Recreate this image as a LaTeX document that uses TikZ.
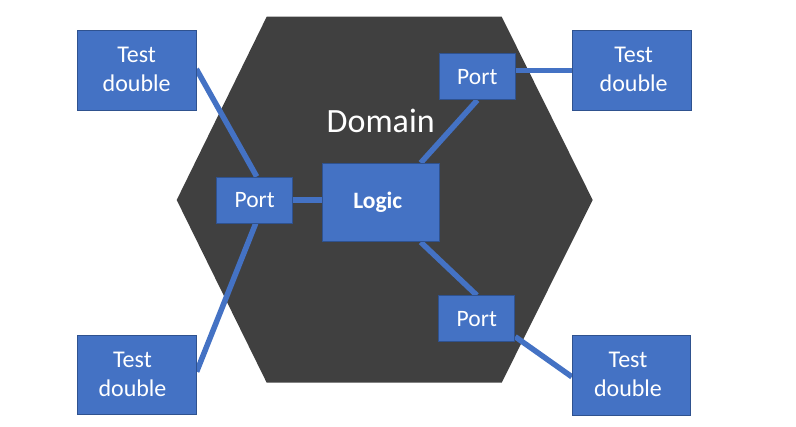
\documentclass[tikz,border=0pt]{standalone}
\usepackage{fontspec}
\setmainfont{Carlito}
\pgfdeclarelayer{bg}
\pgfdeclarelayer{mid}
\pgfsetlayers{bg,mid,main}
\definecolor{boxblue}{HTML}{4472C4}
\definecolor{boxedge}{HTML}{2F528F}
\definecolor{hexgray}{HTML}{404040}
\tikzset{
  bluebox/.style={rectangle, fill=boxblue, draw=boxedge, line width=0.8pt, text=white, inner sep=0pt, align=center},
  tdbox/.style={bluebox, minimum width=118.5pt, minimum height=79.5pt, font=\fontsize{24}{28.7}\selectfont},
  portbox/.style={bluebox, minimum width=76pt, minimum height=46pt, font=\fontsize{23.5}{27}\selectfont},
  link/.style={draw=boxblue, line width=5.5pt},
}
\begin{document}
\begin{tikzpicture}[x=1pt,y=-1pt]
\useasboundingbox (0,0) rectangle (796,427);
\begin{pgfonlayer}{bg}
\fill[hexgray] (266.7,16.7) -- (501.7,16.7) -- (592.7,200) -- (501.7,382.7) -- (266.7,382.7) -- (176.7,200) -- cycle;
\end{pgfonlayer}
\node[white, font=\fontsize{34}{40}\selectfont] (dom) at (380.7,121) {Domain};
\node[tdbox] (td1) at (136.7,70.35) {\raisebox{1.5pt}{Test}\\\raisebox{1.5pt}{double}};
\node[tdbox] (td2) at (631.7,70.35) {\raisebox{1.5pt}{\hspace*{4pt}Test}\\\raisebox{1.5pt}{\hspace*{4pt}double}};
\node[tdbox] (td3) at (137,375) {\raisebox{1.5pt}{Test\hspace*{9pt}}\\\raisebox{1.5pt}{double\hspace*{9pt}}};
\node[tdbox] (td4) at (631.5,375.3) {\raisebox{1.5pt}{Test\hspace*{7pt}}\\\raisebox{1.5pt}{double\hspace*{7pt}}};
\node[portbox] (lp) at (254.7,200) {Port};
\node[portbox] (rp1) at (477.3,76.7) {Port};
\node[portbox] (rp2) at (476.8,318.7) {Port};
\node[bluebox, minimum width=117pt, minimum height=78.4pt, font=\fontsize{23.5}{28}\selectfont\bfseries] (logic) at (380.8,202.5) {\raisebox{3pt}{Logic\hspace*{6pt}}};
\begin{pgfonlayer}{mid}
\draw[link] ([yshift=1.3pt]td1.east) -- ([xshift=2pt]lp.north);
\draw[link] ([xshift=1pt]lp.south) -- ([yshift=3.3pt]td3.east);
\draw[link] (lp.east) -- (lp.east -| logic.west);
\draw[link] ([xshift=-19pt]logic.north east) -- (rp1.south);
\draw[link] ([xshift=-19pt]logic.south east) -- (rp2.north);
\draw[link] (rp1.east |- td2.west) -- (td2.west);
\draw[link] ([yshift=-18pt]rp2.east) -- ([yshift=-1.5pt]td4.west);
\end{pgfonlayer}
\end{tikzpicture}
\end{document}
